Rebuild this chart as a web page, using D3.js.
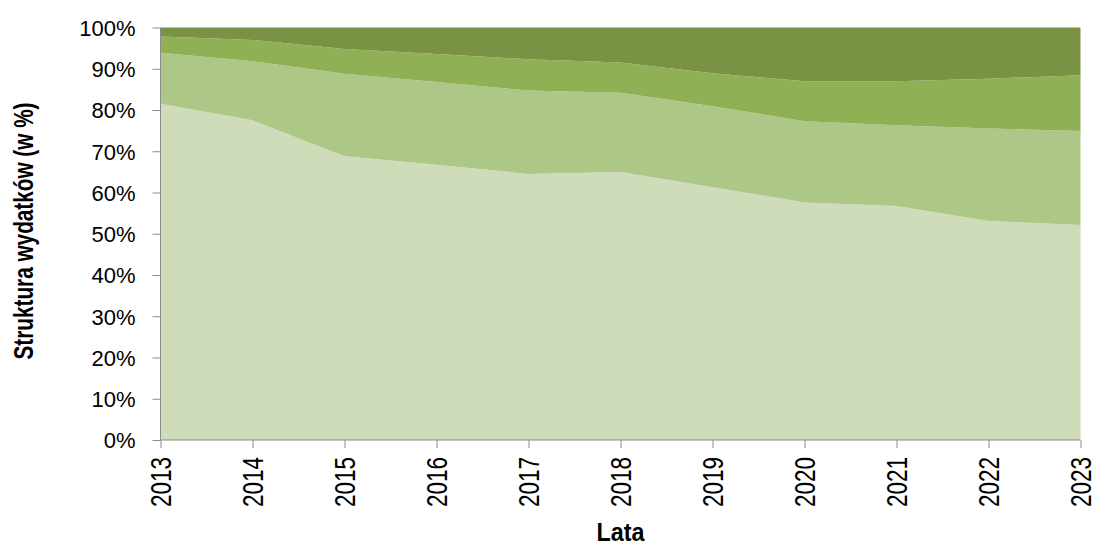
<!DOCTYPE html>
<html>
<head>
<meta charset="utf-8">
<script src="https://d3js.org/d3.v7.min.js"></script>
<style>
  body { margin: 0; background: #fff; }
  text { font-family: "Liberation Sans", Arial, sans-serif; fill: #000; }
</style>
</head>
<body>
<script>
    // years and layer shares (in %)
    let years = [2013, 2014, 2015, 2016, 2017, 2018, 2019, 2020, 2021, 2022, 2023];
    let layer1 = [81.5, 77.5, 68.8, 66.7, 64.5, 65.0, 61.3, 57.6, 56.7, 53.1, 52.1];
    let layer2 = [12.4, 14.3, 20.0, 20.1, 20.2, 19.2, 19.6, 19.7, 19.6, 22.4, 22.8];
    let layer3 = [3.9, 5.2, 6.0, 6.8, 7.6, 7.3, 8.0, 9.7, 10.7, 12.1, 13.5];
    let layer4 = [2.2, 3.0, 5.2, 6.4, 7.7, 8.5, 11.1, 13.0, 13.0, 12.4, 11.6];
    let yTicks = [0, 10, 20, 30, 40, 50, 60, 70, 80, 90, 100];

    let keys = ["l1", "l2", "l3", "l4"];
    let colors = ["#cfdcb9", "#adc786", "#8fb055", "#7a9244"];

    let data = years.map((y, i) => ({
        year: y, l1: layer1[i], l2: layer2[i], l3: layer3[i], l4: layer4[i]
    }));

    let width = 1094, height = 545;
    let mLeft = 160.5, mRight = 1080.5, mTop = 27.5, mBottom = 440;

    let svg = d3.select("body").append("svg")
        .attr("width", width)
        .attr("height", height);

    let x_scale = d3.scaleLinear()
        .domain(d3.extent(years))
        .range([mLeft, mRight]);

    let y_scale = d3.scaleLinear()
        .domain([0, 100])
        .range([mBottom, mTop]);

    let series = d3.stack().keys(keys)(data);

    let area = d3.area()
        .x(d => x_scale(d.data.year))
        .y0(d => y_scale(d[0]))
        .y1(d => y_scale(d[1]));

    svg.selectAll("path.layer")
        .data(series)
        .join("path")
        .attr("class", "layer")
        .attr("d", area)
        .attr("fill", (d, i) => colors[i]);

    // y axis
    let y_axis = d3.axisLeft(y_scale)
        .tickValues(yTicks)
        .tickSize(8)
        .tickPadding(17)
        .tickFormat(d => d + "%");

    let gy = svg.append("g")
        .attr("transform", "translate(" + mLeft + ",0)")
        .call(y_axis);
    gy.select(".domain").attr("stroke", "#8c8c8c").attr("d", "M0," + mTop + "V" + mBottom);
    gy.selectAll(".tick line").attr("stroke", "#8c8c8c");
    gy.selectAll(".tick text")
        .style("font-size", "22px")
        .attr("dy", "0.36em");

    // x axis - the year labels are condensed in the original
    let x_axis = d3.axisBottom(x_scale)
        .tickValues(years)
        .tickSize(8)
        .tickFormat(d3.format("d"));

    let gx = svg.append("g")
        .attr("transform", "translate(0," + mBottom + ")")
        .call(x_axis);
    gx.select(".domain").attr("stroke", "#8c8c8c").attr("d", "M" + mLeft + ",0H" + mRight);
    gx.selectAll(".tick line").attr("stroke", "#8c8c8c");
    gx.selectAll(".tick text")
        .style("font-size", "29px")
        .style("text-anchor", "end")
        .attr("transform", "rotate(-90)")
        .attr("x", -17)
        .attr("y", 0)
        .attr("dy", "0.36em")
        .attr("textLength", 50)
        .attr("lengthAdjust", "spacingAndGlyphs");

    // axis titles
    svg.append("text")
        .attr("x", (mLeft + mRight) / 2)
        .attr("y", 541)
        .style("text-anchor", "middle")
        .style("font-size", "25px")
        .style("font-weight", "bold")
        .attr("textLength", 48)
        .attr("lengthAdjust", "spacingAndGlyphs")
        .text("Lata");

    svg.append("text")
        .attr("transform", "rotate(-90)")
        .attr("x", -231)
        .attr("y", 33)
        .style("text-anchor", "middle")
        .style("font-size", "28px")
        .style("font-weight", "bold")
        .attr("textLength", 257)
        .attr("lengthAdjust", "spacingAndGlyphs")
        .text("Struktura wydatków (w %)");
</script>
</body>
</html>
